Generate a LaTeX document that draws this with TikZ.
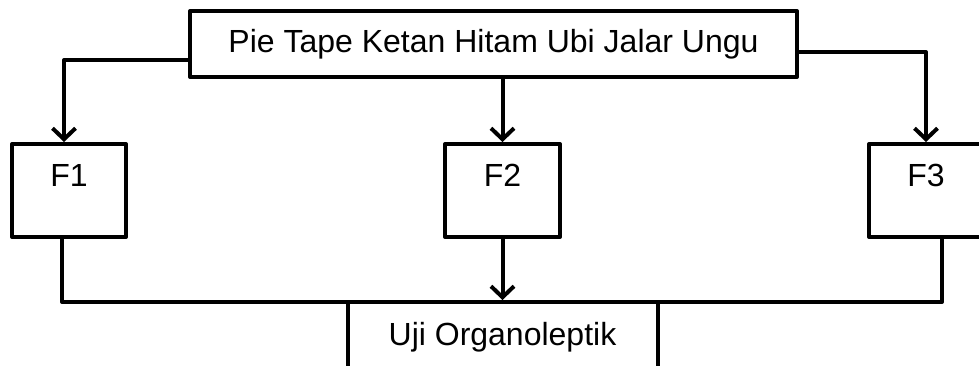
\documentclass[tikz,border=0pt]{standalone}
\usepackage{fontspec}
\setmainfont{Liberation Sans}
\usetikzlibrary{arrows.meta}
\begin{document}
\begin{tikzpicture}[x=1pt,y=-1pt,line width=4pt,line join=round,
  txt/.style={font=\fontsize{32}{38}\selectfont},
  box/.style={draw,rectangle,inner sep=0pt,txt},
  fbox/.style={box,minimum width=114pt,minimum height=93pt},
  arr/.style={-{Straight Barb[length=11pt,width=23pt]}}]
  \useasboundingbox (0,0) rectangle (979,365);
  \clip (0,0) rectangle (979,365);

  % boxes
  \node[box,minimum width=607pt,minimum height=66pt] (top) at (493.5,44)
    {Pie Tape Ketan Hitam Ubi Jalar Ungu};
  \node[fbox,label={[txt,anchor=center,yshift=-33pt]north:F1}] (f1) at (69,190.5) {};
  \node[fbox,minimum width=115pt,label={[txt,anchor=center,yshift=-33pt]north:F2}] (f2) at (502.5,190.5) {};
  \node[fbox,label={[txt,anchor=center,yshift=-33pt]north:F3}] (f3) at (926,190.5) {};
  \node[box,minimum width=310pt,minimum height=70pt] (uji) at (502.5,337)
    {Uji Organoleptik};

  % connectors from the top box
  \draw[arr] ([yshift=-16pt]top.west) -| ([xshift=-5pt]f1.north);
  \draw[arr] (f2.north |- top.south) -- (f2.north);
  \draw[arr] ([yshift=-8pt]top.east) -| (f3.north);

  % collecting line into the test box
  \draw ([xshift=-7pt]f1.south) |- ([yshift=-2pt]uji.north)
        -| ([xshift=16pt]f3.south);
  \draw[arr] (f2.south) -- (f2.south |- uji.north);
\end{tikzpicture}
\end{document}
